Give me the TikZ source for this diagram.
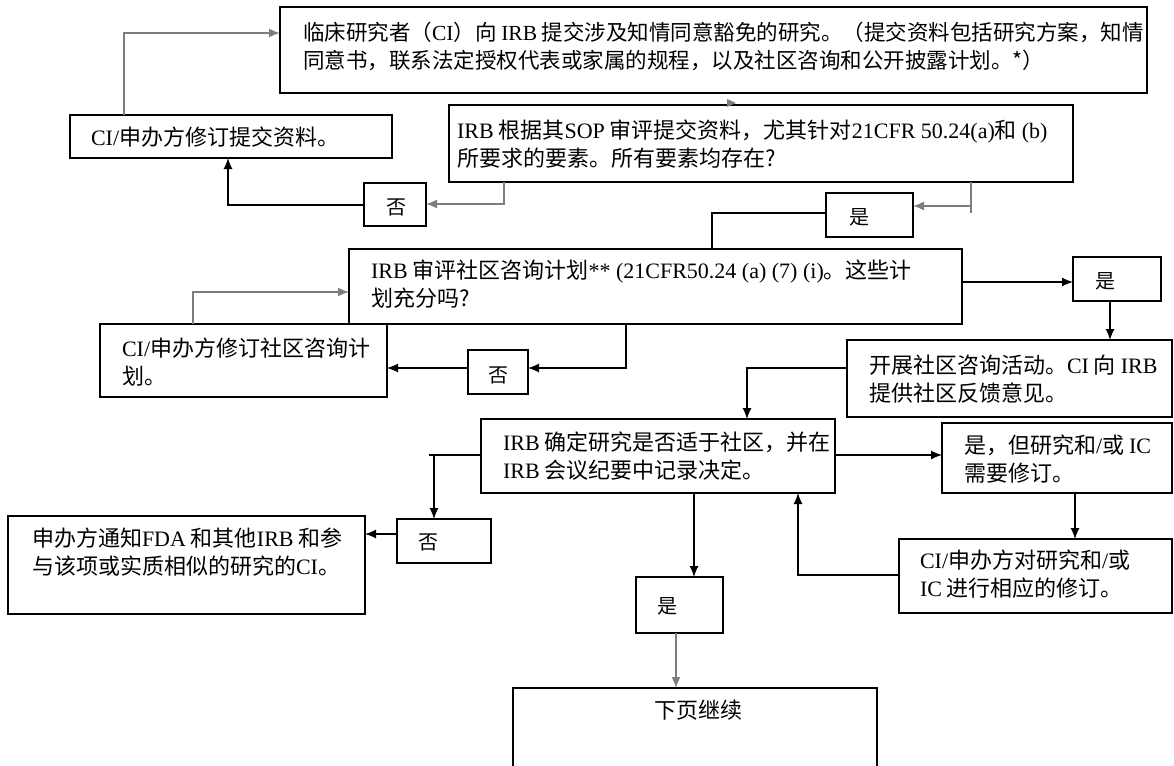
\documentclass[tikz,border=0pt]{standalone}
\usepackage{fontspec}
\setmainfont{Noto Sans CJK SC}
\newfontfamily\latf{Liberation Serif}
\newcommand\la[1]{{\latf #1}}
\usetikzlibrary{arrows.meta}
\definecolor{lgray}{RGB}{125,125,125}
\begin{document}
\begin{tikzpicture}[x=1pt,y=-1pt,
  box/.style={draw=black, line width=1.7pt, rectangle, inner sep=0pt, outer sep=0pt},
  txt/.style={inner sep=0pt, outer sep=0pt, align=left, anchor=west, font=\fontsize{22pt}{28pt}\selectfont},
  lab/.style={inner sep=0pt, outer sep=0pt, font=\fontsize{20pt}{22pt}\selectfont},
  bl/.style={draw=black, line width=1.2pt},
  gl/.style={draw=lgray, line width=1.6pt},
  arr/.style={-{Latex[length=11pt,width=9pt]}},
]
\useasboundingbox (0,0) rectangle (1174,765);

% boxes
\node[box, minimum width=867pt, minimum height=86pt] (A) at (713.5,50) {};
\node[box, minimum width=322pt, minimum height=43pt] (B) at (231,136.5) {};
\node[box, minimum width=624pt, minimum height=77pt] (C) at (761,143.5) {};
\node[box, minimum width=62pt, minimum height=43pt] (N1) at (395,204.5) {};
\node[box, minimum width=87pt, minimum height=44pt] (Y1) at (869.5,215) {};
\node[box, minimum width=613pt, minimum height=75pt] (D) at (655.5,286.5) {};
\node[box, minimum width=88pt, minimum height=44pt] (Y2) at (1117,279) {};
\node[box, minimum width=287pt, minimum height=73pt] (R2) at (243.5,360.5) {};
\node[box, minimum width=60pt, minimum height=44pt] (N2) at (498,372) {};
\node[box, minimum width=325pt, minimum height=77pt] (E) at (1009.5,378.5) {};
\node[box, minimum width=354pt, minimum height=74pt] (F) at (658,456) {};
\node[box, minimum width=230pt, minimum height=70pt] (G) at (1057,458) {};
\node[box, minimum width=94pt, minimum height=44pt] (N3) at (444,541) {};
\node[box, minimum width=357pt, minimum height=98pt] (H) at (186.5,565) {};
\node[box, minimum width=273pt, minimum height=74pt] (R3) at (1035.5,576) {};
\node[box, minimum width=87pt, minimum height=56pt] (Y3) at (679.5,605) {};
\node[box, minimum width=364pt, minimum height=87pt] (Cont) at (695,731.5) {};

% texts
\node[txt, font=\fontsize{21.5pt}{28pt}\selectfont] (At) at (303,46) {临床研究者（\la{CI}）向 \la{IRB} 提交涉及知情同意豁免的研究。（提交资料包括研究方案，知情\\同意书，联系法定授权代表或家属的规程，以及社区咨询和公开披露计划。*）};
\node[txt] (Bt) at (91,137) {\la{CI/}申办方修订提交资料。};
\node[txt] (Ct) at (457,144) {\la{IRB} 根据其\la{SOP} 审评提交资料，尤其针对\la{21CFR 50.24(a)}和 \la{(b)}\\所要求的要素。所有要素均存在?};
\node[txt] (Dt) at (371,284) {\la{IRB} 审评社区咨询计划\la{** (21CFR50.24 (a) (7) (i)}。这些计\\划充分吗?};
\node[txt] (R2t) at (122,362) {\la{CI/}申办方修订社区咨询计\\划。};
\node[txt] (Et) at (869,379) {开展社区咨询活动。\la{CI} 向 \la{IRB}\\提供社区反馈意见。};
\node[txt] (Ft) at (503,456) {\la{IRB} 确定研究是否适于社区，并在\\\la{IRB} 会议纪要中记录决定。};
\node[txt] (Gt) at (964,459) {是，但研究和\la{/}或 \la{IC}\\需要修订。};
\node[txt] (R3t) at (920,574) {\la{CI/}申办方对研究和\la{/}或\\\la{IC} 进行相应的修订。};
\node[txt] (Ht) at (32,552) {申办方通知\la{FDA} 和其他\la{IRB} 和参\\与该项或实质相似的研究的\la{CI}。};
\node[lab] (N1t) at (396,207) {否};
\node[lab] (Y1t) at (859,217) {是};
\node[lab] (Y2t) at (1105,281) {是};
\node[lab] (N2t) at (498,375) {否};
\node[lab] (N3t) at (428,542) {否};
\node[lab] (Y3t) at (667,606) {是};
\node[txt, anchor=center] (Contt) at (698,710) {下页继续};

% connectors
\draw[gl,arr] (B.north -| 124,0) |- (A.west |- 0,33);
\fill[lgray] (727,99) -- (736,103) -- (727,107) -- cycle;
\coordinate (c1) at (971,206);
\coordinate (c1e) at (971,213);
\draw[gl] (C.south -| c1) -- (c1e);
\draw[gl,arr] (c1) -- (Y1.east |- c1);
\draw[gl,arr] (C.south -| 504,0) |- (N1.east |- 0,204);
\draw[bl,arr] (N1.west |- 0,205) -| (B.south -| 228,0);
\draw[bl] (Y1.west |- 0,213) -| (D.north -| 712,0);
\draw[bl,arr] (D.east |- 0,282) -- (Y2.west |- 0,282);
\draw[bl,arr] (Y2.south -| 1110,0) -- (E.north -| 1110,0);
\draw[bl,arr] (D.south -| 626,0) |- (N2.east |- 0,368);
\draw[bl,arr] (N2.west |- 0,368) -- (R2.east |- 0,368);
\draw[gl,arr] (R2.north -| 193,0) |- (D.west |- 0,292);
\draw[bl,arr] (E.west |- 0,368) -| (F.north -| 747,0);
\draw[bl,arr] (F.east |- 0,455) -- (G.west |- 0,455);
\draw[bl,arr] (G.south -| 1075,0) -- (R3.north -| 1075,0);
\draw[bl,arr] (R3.west |- 0,575) -| (F.south -| 798,0);
\coordinate (k1) at (429,455);
\coordinate (k2) at (434,455);
\draw[bl] (F.west |- k1) -- (k1);
\draw[bl,arr] (k2) -- (N3.north -| k2);
\draw[bl,arr] (N3.west |- 0,534) -- (H.east |- 0,534);
\draw[bl,arr] (F.south -| 694,0) -- (Y3.north -| 694,0);
\draw[gl,arr] (Y3.south -| 676,0) -- (Cont.north -| 676,0);
\end{tikzpicture}
\end{document}
